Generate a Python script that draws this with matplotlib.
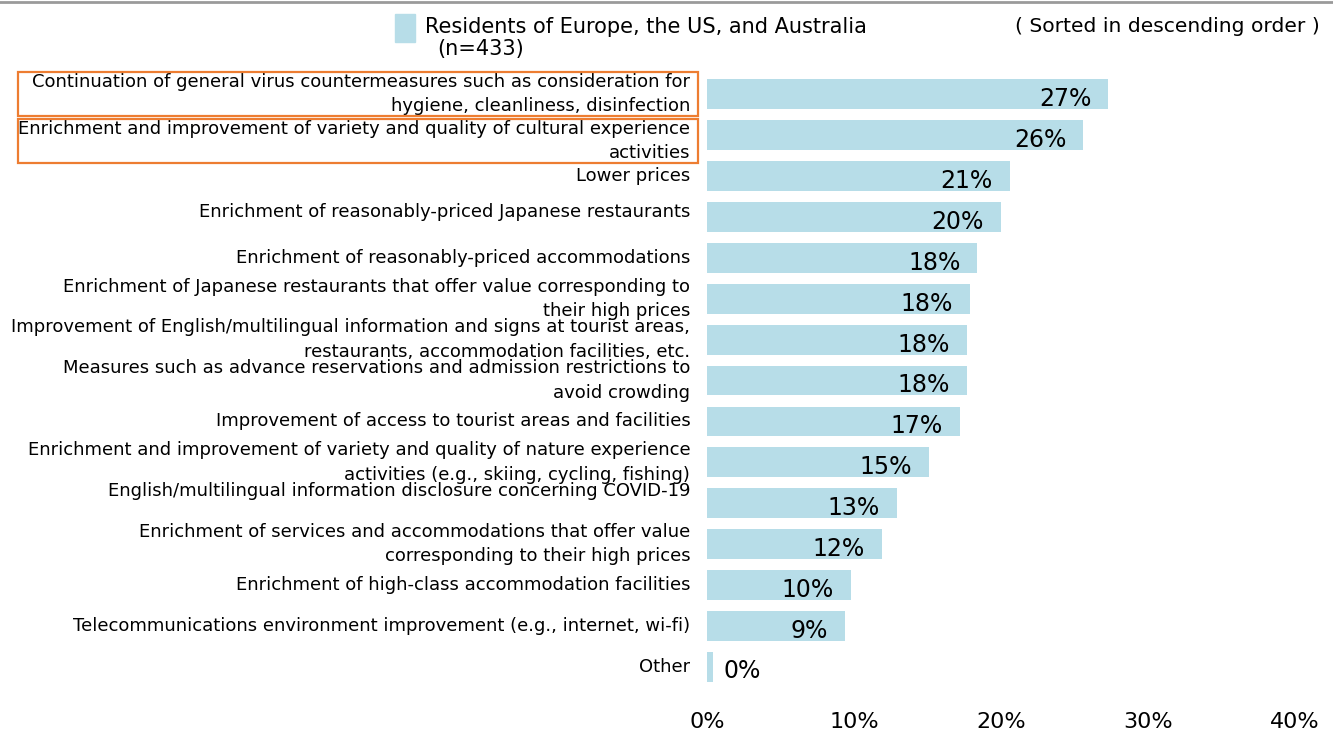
import matplotlib.pyplot as plt
import matplotlib.patches as mpatches
from matplotlib.lines import Line2D
from matplotlib.transforms import ScaledTranslation

# data
categories = [
    "Continuation of general virus countermeasures such as consideration for\nhygiene, cleanliness, disinfection",
    "Enrichment and improvement of variety and quality of cultural experience\nactivities",
    "Lower prices",
    "Enrichment of reasonably-priced Japanese restaurants",
    "Enrichment of reasonably-priced accommodations",
    "Enrichment of Japanese restaurants that offer value corresponding to\ntheir high prices",
    "Improvement of English/multilingual information and signs at tourist areas,\nrestaurants, accommodation facilities, etc.",
    "Measures such as advance reservations and admission restrictions to\navoid crowding",
    "Improvement of access to tourist areas and facilities",
    "Enrichment and improvement of variety and quality of nature experience\nactivities (e.g., skiing, cycling, fishing)",
    "English/multilingual information disclosure concerning COVID-19\n",
    "Enrichment of services and accommodations that offer value\ncorresponding to their high prices",
    "Enrichment of high-class accommodation facilities",
    "Telecommunications environment improvement (e.g., internet, wi-fi)",
    "Other",
]
values = [27.3, 25.6, 20.6, 20.0, 18.4, 17.9, 17.7, 17.7, 17.2, 15.1, 12.9, 11.9, 9.8, 9.4, 0.4]
xticks = [0, 10, 20, 30, 40]
series_name = "Residents of Europe, the US, and Australia"
n_label = "(n=433)"
note = "( Sorted in descending order )"
highlighted = [0, 1]   # rows with orange frame

bar_color = "#b7dde8"
W, H = 1333, 731

fig = plt.figure(figsize=(W / 100, H / 100), dpi=100)
ax = fig.add_axes([707 / W, 1 - 690 / H, (1295 - 707) / W, (690 - 70) / H])

ypos = list(range(len(values)))
ax.barh(ypos, values, height=0.73, color=bar_color)
ax.set_xlim(0, 40)
ax.set_ylim(14.56, -0.586)

ax.set_yticks(ypos)
ax.set_yticklabels(categories, fontsize=12.95, linespacing=1.45, va="center")
ax.tick_params(axis="y", length=0, pad=12)
ax.set_xticks(xticks)
ax.set_xticklabels([f"{t}%" for t in xticks], fontsize=16)
ax.tick_params(axis="x", length=0, pad=16)
for s in ax.spines.values():
    s.set_visible(False)

# nudge a couple of labels like in the original layout
nudges = {1: -6, 3: 5}
for i, dy in nudges.items():
    lab = ax.get_yticklabels()[i]
    lab.set_transform(lab.get_transform() + ScaledTranslation(0, dy / 100, fig.dpi_scale_trans))

for y, v in zip(ypos, values):
    if v < 1:
        ax.text(v + 0.7, y + 0.1, f"{v:.0f}%", ha="left", va="center", fontsize=17)
    else:
        ax.text(v - 1.15, y + 0.12, f"{v:.0f}%", ha="right", va="center", fontsize=17)

# orange frames around highlighted labels
for i in highlighted:
    top = 72 + i * 47
    fig.patches.append(mpatches.Rectangle((18 / W, 1 - (top + 44) / H), 680 / W, 44 / H,
                                          transform=fig.transFigure, fill=False,
                                          edgecolor="#ed7d31", lw=1.6))

# legend drawn by hand
fig.patches.append(mpatches.Rectangle((395 / W, 1 - 42 / H), 20 / W, 28 / H,
                                      transform=fig.transFigure, color=bar_color))
fig.text(425 / W, 1 - 27 / H, series_name, fontsize=15, va="center", ha="left")
fig.text(437 / W, 1 - 49 / H, n_label, fontsize=15, va="center", ha="left")
fig.text(1320 / W, 1 - 27 / H, note, fontsize=14.6, va="center", ha="right")

# grey rule at the top
fig.lines.append(Line2D([0, 1], [1 - 2 / H, 1 - 2 / H], transform=fig.transFigure,
                        color="#9a9a9a", lw=2))

fig.savefig("out.png", dpi=100)
